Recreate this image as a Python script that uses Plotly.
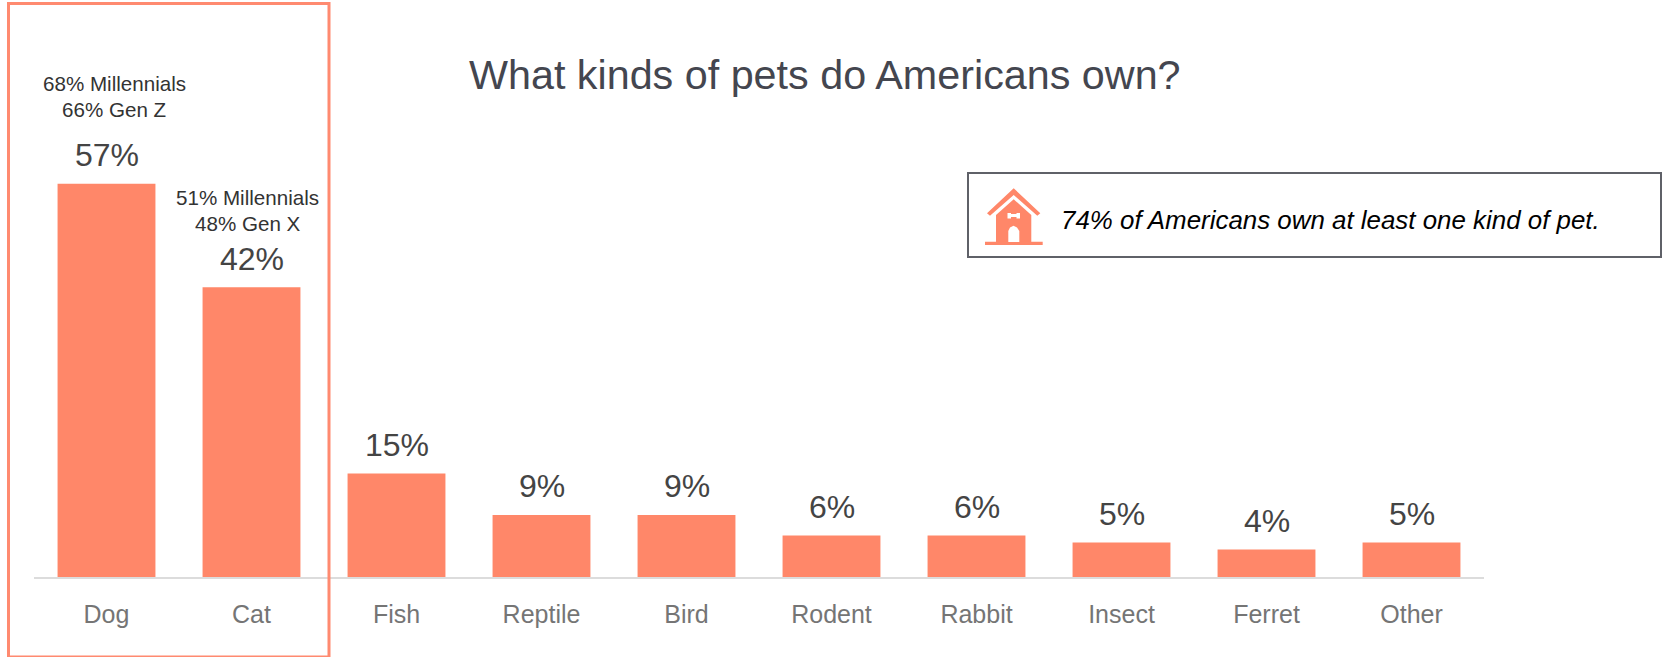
import plotly.graph_objects as go

# Survey results
pets = ["Dog", "Cat", "Fish", "Reptile", "Bird", "Rodent", "Rabbit", "Insect", "Ferret", "Other"]
shares = [57, 42, 15, 9, 9, 6, 6, 5, 4, 5]
generation_notes = {
    "Dog": ["68% Millennials", "66% Gen Z"],
    "Cat": ["51% Millennials", "48% Gen X"],
}
note_offsets = {"Dog": (7.5, 100, 74), "Cat": (-4, 90, 64)}
title_text = "What kinds of pets do Americans own?"
callout_text = "74% of Americans own at least one kind of pet."

WIDTH, HEIGHT = 1665, 657
LEFT, RIGHT, TOP, BOTTOM = 34, 181, 0, 80
PX_PER_POINT = 6.9
CORAL = "#ff8769"
FONT = "Liberation Sans"


def px(x):
    # Horizontal page pixel to paper coordinate
    return (x - LEFT) / (WIDTH - LEFT - RIGHT)


def py(y):
    # Vertical page pixel to paper coordinate
    return 1 - (y - TOP) / (HEIGHT - TOP - BOTTOM)


def path(points):
    return "M " + " L ".join(f"{px(x):.5f},{py(y):.5f}" for x, y in points) + " Z"


def rect_shape(x0, y0, x1, y1, fill=None, line=None, width=0):
    return dict(
        type="rect", xref="paper", yref="paper",
        x0=px(x0), x1=px(x1), y0=py(y0), y1=py(y1),
        fillcolor=fill or "rgba(0,0,0,0)",
        line=dict(color=line or "rgba(0,0,0,0)", width=width),
    )


def icon_shape(points, fill):
    return dict(type="path", xref="paper", yref="paper", path=path(points),
                fillcolor=fill, line=dict(width=0))


fig = go.Figure(go.Bar(x=pets, y=shares, marker=dict(color=CORAL, line=dict(width=0)),
                       width=0.675, hoverinfo="skip"))

shapes = [
    # Frame around the two most common pets
    rect_shape(8.5, 3.5, 329, 657, line="#ff8a70", width=3),
    # Callout box
    rect_shape(968, 173, 1661, 257, line="#5f6168", width=2),
    # Doghouse icon: roof, body, ground, door, bone
    icon_shape([(1013.7, 188.3), (1040.3, 213.3), (1037.3, 215.7), (1013.7, 195), (990, 215.7), (987, 213.3)], CORAL),
    icon_shape([(1013.7, 199.3), (1031.3, 215), (1031.3, 242), (996, 242), (996, 215)], CORAL),
    rect_shape(985, 241.7, 1042.7, 245, fill=CORAL),
    icon_shape([(1008.3, 242), (1008.3, 231), (1010, 227.5), (1013.5, 225.7), (1017, 227.5), (1019.3, 231), (1019.3, 242)], "white"),
    rect_shape(1009, 214, 1018.5, 217, fill="white"),
    rect_shape(1007.5, 213, 1011, 218.5, fill="white"),
    rect_shape(1016.5, 213, 1020, 218.5, fill="white"),
]

annotations = [
    dict(text=title_text, xref="paper", yref="paper", x=px(825), y=py(75),
         xanchor="center", yanchor="middle", showarrow=False,
         font=dict(family=FONT, size=41.3, color="#44464f")),
    dict(text=f"<i>{callout_text}</i>", xref="paper", yref="paper", x=px(1059), y=py(220),
         xanchor="left", yanchor="middle", showarrow=False,
         font=dict(family=FONT, size=25.9, color="#000000")),
]

# Value labels above each bar, with the generation notes above the two largest
for pet, share in zip(pets, shares):
    annotations.append(dict(x=pet, y=share, text=f"{share}%", xref="x", yref="y",
                            yanchor="middle", yshift=28.5, showarrow=False,
                            font=dict(family=FONT, size=32, color="#444444")))
    if pet in generation_notes:
        xshift, upper, lower = note_offsets[pet]
        for line, yshift in zip(generation_notes[pet], (upper, lower)):
            annotations.append(dict(x=pet, y=share, text=line, xref="x", yref="y",
                                    yanchor="middle", xshift=xshift, yshift=yshift,
                                    showarrow=False,
                                    font=dict(family=FONT, size=20.6, color="#333333")))

fig.update_layout(
    width=WIDTH, height=HEIGHT,
    margin=dict(l=LEFT, r=RIGHT, t=TOP, b=BOTTOM, pad=0),
    paper_bgcolor="white", plot_bgcolor="white",
    showlegend=False,
    shapes=shapes,
    annotations=annotations,
    xaxis=dict(
        type="category", categoryorder="array", categoryarray=pets,
        range=[-0.5, 9.5], showgrid=False, zeroline=False,
        showline=True, linecolor="#dcdcdc", linewidth=2,
        ticks="outside", ticklen=14, tickcolor="rgba(0,0,0,0)",
        tickfont=dict(family=FONT, size=25, color="#757575"),
    ),
    yaxis=dict(range=[0, (HEIGHT - TOP - BOTTOM) / PX_PER_POINT], visible=False),
)

fig.write_html("out.html", config=dict(displayModeBar=False))
